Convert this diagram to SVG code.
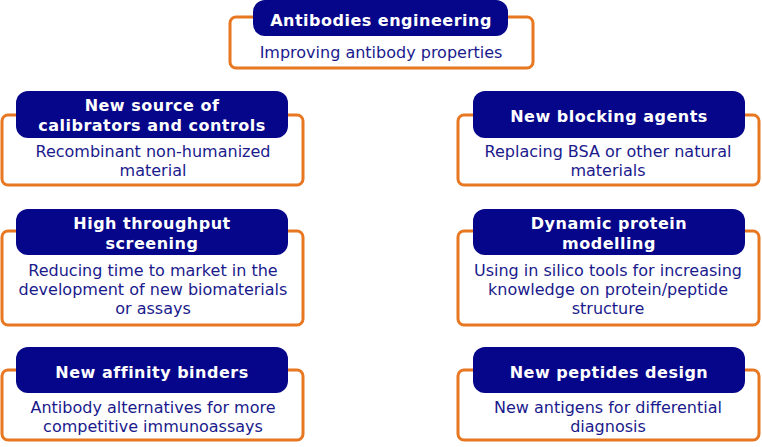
<svg xmlns="http://www.w3.org/2000/svg" width="762" height="447" viewBox="0 0 762 447">
<style>
.box{fill:#fff;stroke:#E87722;stroke-width:3}
.pill{fill:#06068A}
.t{font-family:"DejaVu Sans",Verdana,sans-serif;font-weight:bold;font-size:16px;letter-spacing:0.5px;fill:#fff;text-anchor:middle}
.b{font-family:"DejaVu Sans",Verdana,sans-serif;font-size:16px;fill:#1A1A8C;text-anchor:middle}
</style>
<rect width="762" height="447" fill="#fff"/>
<g id="connectors"></g>
<g id="n1">
<rect class="box" x="230" y="17" width="303" height="51" rx="6"/>
<rect class="pill" x="253" y="0" width="255" height="36" rx="12"/>
<text class="t" x="381" y="26">Antibodies engineering</text>
<text class="b" x="381" y="58">Improving antibody properties</text>
</g>
<g id="n2">
<rect class="box" x="2" y="115" width="301" height="70" rx="6"/>
<rect class="pill" x="16" y="91" width="272" height="47" rx="12"/>
<text class="t" x="152" y="111">New source of</text>
<text class="t" x="152" y="131">calibrators and controls</text>
<text class="b" x="153" y="157">Recombinant non-humanized</text>
<text class="b" x="153" y="176">material</text>
</g>
<g id="n3">
<rect class="box" x="458" y="115" width="301" height="70" rx="6"/>
<rect class="pill" x="473" y="91" width="272" height="47" rx="12"/>
<text class="t" x="609" y="122">New blocking agents</text>
<text class="b" x="608" y="157">Replacing BSA or other natural</text>
<text class="b" x="608" y="176">materials</text>
</g>
<g id="n4">
<rect class="box" x="2" y="231" width="301" height="94" rx="6"/>
<rect class="pill" x="16" y="209" width="272" height="46" rx="12"/>
<text class="t" x="152" y="229">High throughput</text>
<text class="t" x="152" y="249">screening</text>
<text class="b" x="153" y="276">Reducing time to market in the</text>
<text class="b" x="153" y="295">development of new biomaterials</text>
<text class="b" x="153" y="314">or assays</text>
</g>
<g id="n5">
<rect class="box" x="458" y="231" width="301" height="94" rx="6"/>
<rect class="pill" x="473" y="209" width="272" height="46" rx="12"/>
<text class="t" x="609" y="229">Dynamic protein</text>
<text class="t" x="609" y="249">modelling</text>
<text class="b" x="608" y="276">Using in silico tools for increasing</text>
<text class="b" x="608" y="295">knowledge on protein/peptide</text>
<text class="b" x="608" y="314">structure</text>
</g>
<g id="n6">
<rect class="box" x="2" y="370" width="301" height="70" rx="6"/>
<rect class="pill" x="16" y="347" width="272" height="46" rx="12"/>
<text class="t" x="152" y="378">New affinity binders</text>
<text class="b" x="153" y="413">Antibody alternatives for more</text>
<text class="b" x="153" y="432">competitive immunoassays</text>
</g>
<g id="n7">
<rect class="box" x="458" y="370" width="301" height="70" rx="6"/>
<rect class="pill" x="473" y="347" width="272" height="46" rx="12"/>
<text class="t" x="609" y="378">New peptides design</text>
<text class="b" x="608" y="413">New antigens for differential</text>
<text class="b" x="608" y="432">diagnosis</text>
</g>
</svg>
